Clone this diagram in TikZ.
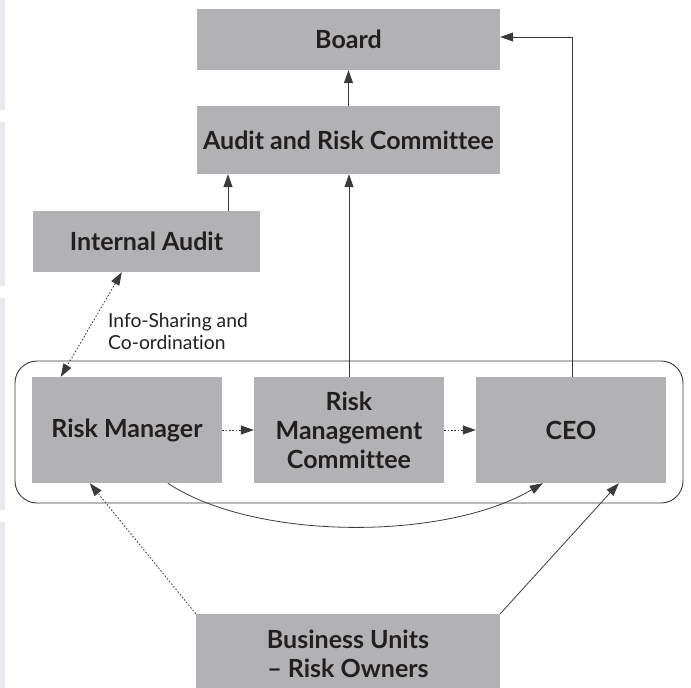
\documentclass[tikz,border=0pt]{standalone}
\usepackage{fontspec}
\setmainfont{Lato}[Ligatures=NoCommon]
\usetikzlibrary{arrows.meta,calc}

\definecolor{boxgray}{HTML}{B2B2B4}
\definecolor{inkdark}{HTML}{231F20}
\definecolor{edgeband}{HTML}{EAEAEE}
\definecolor{linegray}{HTML}{3A3A3C}

\tikzset{
  unit/.style={fill=boxgray, draw=none, inner sep=0pt, align=center,
    text=inkdark, font=\fontsize{25}{29}\selectfont\bfseries},
  tip/.style={-{Triangle[length=13pt,width=9pt]}},
  conn/.style={draw=linegray, line width=0.8pt, tip},
  dotconn/.style={conn, dash pattern=on 1.6pt off 1.8pt},
  dualdot/.style={dotconn, {Triangle[length=13pt,width=9pt]}-{Triangle[length=13pt,width=9pt]}},
  group/.style={draw=linegray, line width=0.9pt, rounded corners=22pt},
  note/.style={inner sep=0pt, align=left, anchor=west, text=inkdark,
    font=\fontsize{19.3}{22}\selectfont}
}

\begin{document}
\begin{tikzpicture}[x=1pt, y=-1pt]
  \useasboundingbox (0,0) rectangle (691,688);

  % faint strips along the left margin
  \foreach \ya/\yb in {0/110, 122/286, 298/510, 522/688}
    \fill[edgeband] (0,\ya) rectangle (5,\yb);

  % grouping frame around the management tier
  \draw[group] (15,361) rectangle (683,503);

  % units
  \node[unit, minimum width=303, minimum height=61] (board) at (348.5,39.5) {Board};
  \node[unit, minimum width=303, minimum height=68] (arc) at (348.5,140) {Audit and Risk Committee};
  \node[unit, minimum width=227, minimum height=61] (ia) at (146.5,241.5) {Internal Audit};
  \node[unit, minimum width=190, minimum height=106] (rm) at (127,430) {Risk Manager};
  \node[unit, minimum width=190, minimum height=106] (rmc) at (349,430) {Risk\\Management\\Committee};
  \node[unit, minimum width=190, minimum height=106] (ceo) at (571,430) {CEO};
  \node[unit, minimum width=304, minimum height=80] (bu) at (348,654) {Business Units\\– Risk Owners};

  % anchor points for connectors
  \coordinate (iaUp) at ([xshift=81.5]ia.north);
  \coordinate (ceoUp) at ([xshift=1]ceo.north);
  \coordinate (boardIn) at ([yshift=2.5]board.east);

  % reporting lines
  \draw[conn] (arc.north) -- (board.south);
  \draw[conn] (iaUp) -- (iaUp |- arc.south);
  \draw[conn] (rmc.north) -- (rmc.north |- arc.south);
  \draw[conn] (ceoUp) |- (boardIn);

  % information sharing
  \draw[dualdot] ([xshift=89]ia.south west) -- ([xshift=29]rm.north west);
  \node[note] (share) at (108,331) {Info-Sharing and\\Co-ordination};

  % management tier
  \draw[dotconn] (rm.east) -- (rmc.west);
  \draw[dotconn] (rmc.east) -- (ceo.west);
  \draw[conn] ([xshift=136]rm.south west) .. controls (255,541) and (445,541) .. ([xshift=67]ceo.south west);

  % risk owners
  \draw[dotconn] (bu.north west) -- ([xshift=58]rm.south west);
  \draw[conn] (bu.north east) -- ([xshift=143]ceo.south west);
\end{tikzpicture}
\end{document}
